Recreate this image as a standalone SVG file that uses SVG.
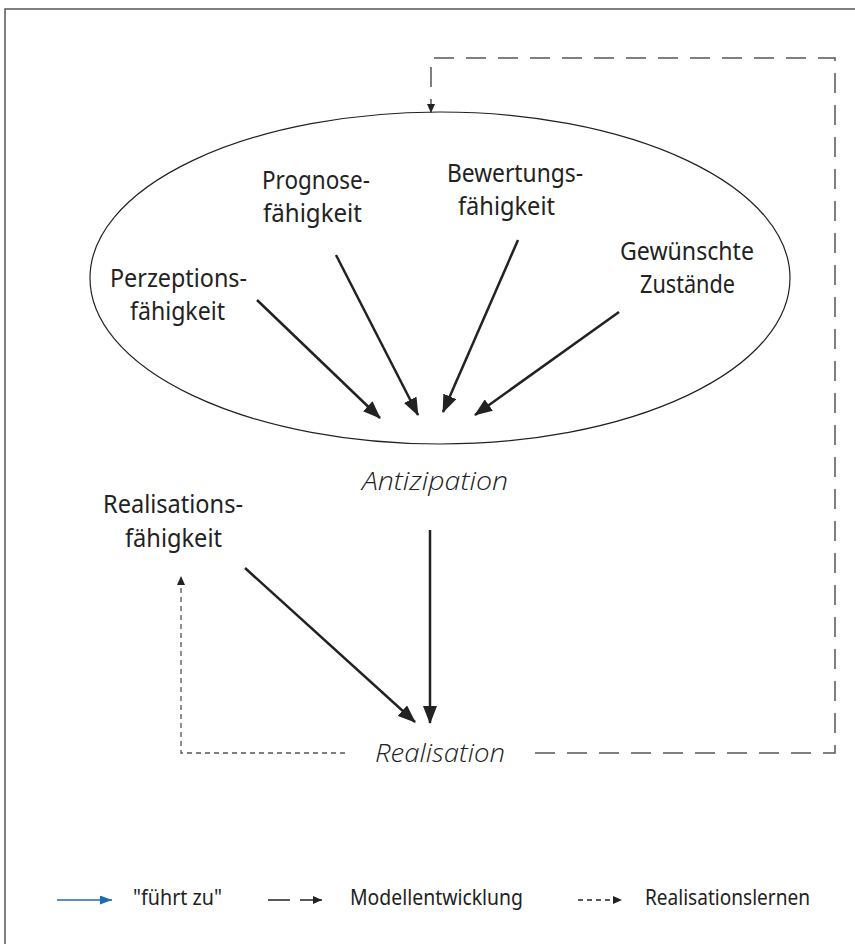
<svg xmlns="http://www.w3.org/2000/svg" width="855" height="944" viewBox="0 0 855 944">
<style>
.lbl{font-family:"Noto Sans","Liberation Sans",sans-serif;font-size:26px;fill:#222}
.it{font-family:"Open Sans","Liberation Sans",sans-serif;font-size:26px;font-style:italic;font-weight:300;fill:#222}
.leg{font-family:"Noto Sans","Liberation Sans",sans-serif;font-size:21px;fill:#222}
.main{stroke:#222;stroke-width:2.5;fill:none}
.model{stroke:#555;stroke-width:1.5;fill:none;stroke-dasharray:20 12}
.real{stroke:#555;stroke-width:1.3;fill:none;stroke-dasharray:5 4}
</style>
<defs>
<marker id="ah" markerUnits="userSpaceOnUse" markerWidth="18" markerHeight="14" viewBox="0 0 18 14" refX="17" refY="7" orient="auto"><path d="M0,0 L18,7 L0,14 z" fill="#222"/></marker>
<marker id="ahs" markerUnits="userSpaceOnUse" markerWidth="9" markerHeight="8" viewBox="0 0 9 8" refX="9" refY="4" orient="auto"><path d="M0,0 L9,4 L0,8 z" fill="#222"/></marker>
<marker id="ahb" markerUnits="userSpaceOnUse" markerWidth="12" markerHeight="9" viewBox="0 0 12 9" refX="12" refY="4.5" orient="auto"><path d="M0,0 L12,4.5 L0,9 z" fill="#1a6db5"/></marker>
</defs>
<rect width="855" height="944" fill="#fff"/>
<path d="M5,944 V9 H855" stroke="#555" stroke-width="1.5" fill="none"/>

<g id="ellipse"><ellipse cx="440" cy="278" rx="350" ry="166" fill="none" stroke="#222" stroke-width="1.2"/></g>

<g id="perzeption"><text class="lbl" x="110" y="287" textLength="137" lengthAdjust="spacingAndGlyphs">Perzeptions-</text><text class="lbl" x="130" y="320" textLength="95" lengthAdjust="spacingAndGlyphs">fähigkeit</text></g>
<g id="prognose"><text class="lbl" x="262" y="189" textLength="108" lengthAdjust="spacingAndGlyphs">Prognose-</text><text class="lbl" x="263" y="222" textLength="99" lengthAdjust="spacingAndGlyphs">fähigkeit</text></g>
<g id="bewertung"><text class="lbl" x="447" y="182" textLength="136" lengthAdjust="spacingAndGlyphs">Bewertungs-</text><text class="lbl" x="458" y="215" textLength="97" lengthAdjust="spacingAndGlyphs">fähigkeit</text></g>
<g id="zustaende"><text class="lbl" x="620" y="260" textLength="134" lengthAdjust="spacingAndGlyphs">Gewünschte</text><text class="lbl" x="640" y="293" textLength="95" lengthAdjust="spacingAndGlyphs">Zustände</text></g>
<g id="realisationsfaehigkeit"><text class="lbl" x="103" y="513" textLength="140" lengthAdjust="spacingAndGlyphs">Realisations-</text><text class="lbl" x="125" y="547" textLength="97" lengthAdjust="spacingAndGlyphs">fähigkeit</text></g>
<g id="antizipation"><text class="it" x="362" y="490" textLength="146" lengthAdjust="spacingAndGlyphs">Antizipation</text></g>
<g id="realisation"><text class="it" x="375" y="762" textLength="130" lengthAdjust="spacingAndGlyphs">Realisation</text></g>

<g id="connectors">
<line class="main" x1="257" y1="300" x2="380" y2="418" marker-end="url(#ah)"/>
<line class="main" x1="336" y1="255" x2="418" y2="415" marker-end="url(#ah)"/>
<line class="main" x1="518" y1="240" x2="443" y2="412" marker-end="url(#ah)"/>
<line class="main" x1="619" y1="312" x2="475" y2="415" marker-end="url(#ah)"/>
<line class="main" x1="430" y1="530" x2="430" y2="723" marker-end="url(#ah)"/>
<line class="main" x1="245" y1="568" x2="415" y2="722" marker-end="url(#ah)"/>
<path class="real" d="M345,753 H181 V576" marker-end="url(#ahs)"/>
<path class="model" d="M535,753 H835 V58 H431 V113" marker-end="url(#ahs)"/>
</g>

<g id="legend">
<line x1="57" y1="900" x2="112" y2="900" stroke="#1a6db5" stroke-width="1.5" marker-end="url(#ahb)"/>
<text class="leg" x="133" y="905" textLength="89" lengthAdjust="spacingAndGlyphs">"führt zu"</text>
<line x1="268" y1="900" x2="290" y2="900" stroke="#222" stroke-width="1.5"/>
<line x1="300" y1="900" x2="322" y2="900" stroke="#222" stroke-width="1.5" marker-end="url(#ahs)"/>
<text class="leg" x="350" y="905" textLength="173" lengthAdjust="spacingAndGlyphs">Modellentwicklung</text>
<line x1="578" y1="900" x2="622" y2="900" stroke="#222" stroke-width="1.3" stroke-dasharray="5 4" marker-end="url(#ahs)"/>
<text class="leg" x="645" y="905" textLength="165" lengthAdjust="spacingAndGlyphs">Realisationslernen</text>
</g>
</svg>
